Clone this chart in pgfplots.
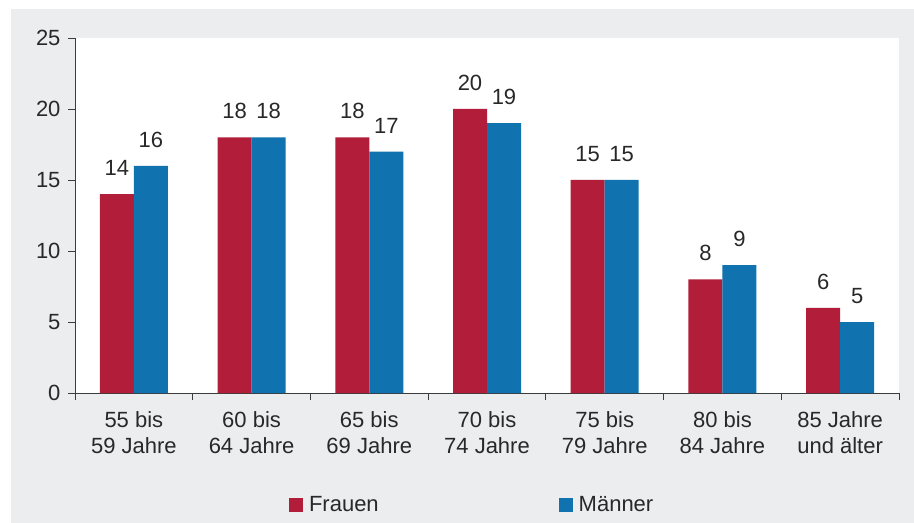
\documentclass[border=0pt]{standalone}
\usepackage{fontspec}
\setmainfont{Liberation Sans}
\usepackage{pgfplots}
\pgfplotsset{compat=1.18}
\definecolor{fr}{RGB}{178,30,58}
\definecolor{ma}{RGB}{16,114,174}
\definecolor{bg}{RGB}{236,237,239}
\definecolor{txt}{RGB}{40,40,40}
\definecolor{axc}{RGB}{60,60,60}
\newcommand{\ff}{\fontsize{22bp}{26bp}\selectfont}
\begin{document}
\begin{tikzpicture}[font=\ff]
\fill[white] (-75bp,-130bp) rectangle (839bp,393bp);
\fill[bg] (-64bp,-130bp) rectangle (839bp,384bp);
\begin{axis}[
  at={(0,0)}, anchor=south west,
  width=824bp, height=355bp, scale only axis,
  xmin=-0.5, xmax=6.5, ymin=0, ymax=25,
  axis background/.style={fill=white},
  axis lines=left,
  axis line style={-, draw=axc, line width=0.9bp},
  ytick={0,5,10,15,20,25},
  xtick={-0.5,0.5,1.5,2.5,3.5,4.5,5.5,6.5},
  x tick label as interval,
  xticklabels={{55 bis\\59 Jahre},{60 bis\\64 Jahre},{65 bis\\69 Jahre},{70 bis\\74 Jahre},{75 bis\\79 Jahre},{80 bis\\84 Jahre},{85 Jahre\\und älter}},
  xticklabel style={align=center, font=\ff, text=txt, yshift=-8bp},
  yticklabel style={font=\ff, text=txt, xshift=-4bp},
  /pgf/number format/assume math mode=true,
  tick align=outside,
  major tick length=7bp,
  tick style={draw=axc, line width=0.9bp},
  ybar=0pt,
  bar width=34bp,
  nodes near coords,
  nodes near coords style={font=\ff, text=txt, inner sep=0pt, anchor=south, yshift=18bp},
  legend style={at={(0.482,-0.315)}, anchor=center, draw=none, fill=none, font=\ff, text=txt,
    legend columns=2,
    /tikz/every odd column/.append style={column sep=4bp},
    /tikz/every even column/.append style={column sep=178bp}},
  legend image code/.code={\fill[#1] (0bp,-7bp) rectangle (14bp,7bp);},
]
\addplot[draw=none, fill=fr] coordinates {(0,14) (1,18) (2,18) (3,20) (4,15) (5,8) (6,6)};
\addplot[draw=none, fill=ma] coordinates {(0,16) (1,18) (2,17) (3,19) (4,15) (5,9) (6,5)};
\legend{Frauen, Männer}
\end{axis}
\end{tikzpicture}
\end{document}
